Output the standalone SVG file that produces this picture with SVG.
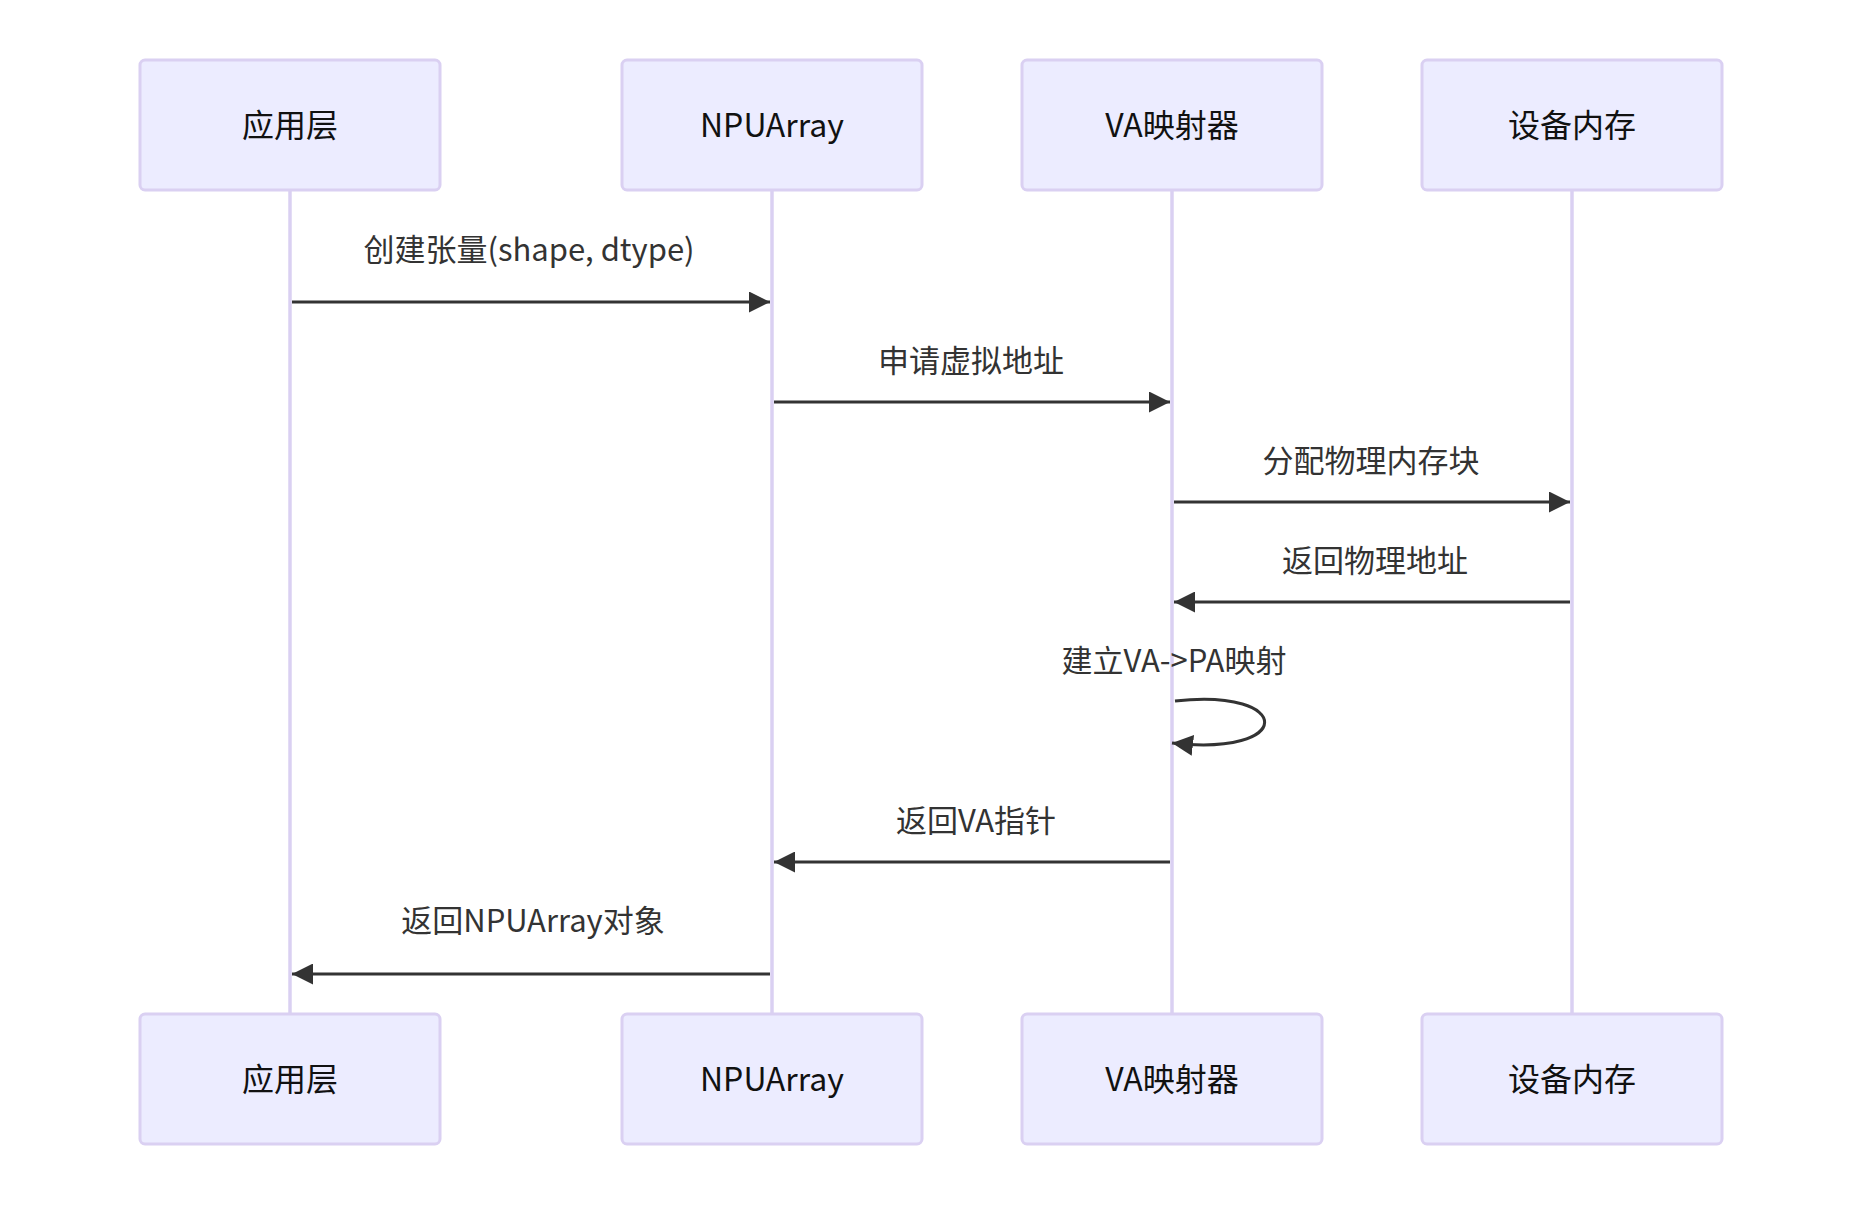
<svg xmlns="http://www.w3.org/2000/svg" width="1862" height="1206" viewBox="0 0 1862 1206">
<defs>
<style>
.actor{fill:#ECECFF;stroke:#DAD0F2;stroke-width:3}
.atext{font-family:"Noto Sans CJK SC","Noto Sans",sans-serif;font-size:32px;fill:#111;text-anchor:middle;dominant-baseline:central}
.life{stroke:#DAD0F2;stroke-width:3.5}
.msg{stroke:#333;stroke-width:3;fill:none}
.mtext{font-family:"Noto Sans CJK SC","Noto Sans",sans-serif;font-size:31px;fill:#333;text-anchor:middle;dominant-baseline:central}
</style>
<marker id="arrow" viewBox="0 0 20 20" refX="20" refY="10" markerWidth="21" markerHeight="21" markerUnits="userSpaceOnUse" orient="auto">
<path d="M0,0 L20,10 L0,20 z" fill="#333"/>
</marker>
</defs>
<rect width="1862" height="1206" fill="#fff"/>
<g id="lifelines">
<line class="life" x1="290" y1="190" x2="290" y2="1014"/>
<line class="life" x1="772" y1="190" x2="772" y2="1014"/>
<line class="life" x1="1172" y1="190" x2="1172" y2="1014"/>
<line class="life" x1="1572" y1="190" x2="1572" y2="1014"/>
</g>
<g id="actor-app-top"><rect class="actor" x="140" y="60" width="300" height="130" rx="5"/><text class="atext" x="290" y="123">应用层</text></g>
<g id="actor-npu-top"><rect class="actor" x="622" y="60" width="300" height="130" rx="5"/><text class="atext" x="772" y="123" font-size="31">NPUArray</text></g>
<g id="actor-va-top"><rect class="actor" x="1022" y="60" width="300" height="130" rx="5"/><text class="atext" x="1172" y="123">VA映射器</text></g>
<g id="actor-mem-top"><rect class="actor" x="1422" y="60" width="300" height="130" rx="5"/><text class="atext" x="1572" y="123">设备内存</text></g>
<g id="actor-app-bottom"><rect class="actor" x="140" y="1014" width="300" height="130" rx="5"/><text class="atext" x="290" y="1077">应用层</text></g>
<g id="actor-npu-bottom"><rect class="actor" x="622" y="1014" width="300" height="130" rx="5"/><text class="atext" x="772" y="1077" font-size="31">NPUArray</text></g>
<g id="actor-va-bottom"><rect class="actor" x="1022" y="1014" width="300" height="130" rx="5"/><text class="atext" x="1172" y="1077">VA映射器</text></g>
<g id="actor-mem-bottom"><rect class="actor" x="1422" y="1014" width="300" height="130" rx="5"/><text class="atext" x="1572" y="1077">设备内存</text></g>
<g id="connectors">
<line class="msg" x1="292" y1="302" x2="770" y2="302" marker-end="url(#arrow)"/>
<line class="msg" x1="774" y1="402" x2="1170" y2="402" marker-end="url(#arrow)"/>
<line class="msg" x1="1174" y1="502" x2="1570" y2="502" marker-end="url(#arrow)"/>
<line class="msg" x1="1570" y1="602" x2="1174" y2="602" marker-end="url(#arrow)"/>
<path class="msg" d="M1175,701 C1295,688 1295,757 1172,743" marker-end="url(#arrow)"/>
<line class="msg" x1="1170" y1="862" x2="774" y2="862" marker-end="url(#arrow)"/>
<line class="msg" x1="770" y1="974" x2="292" y2="974" marker-end="url(#arrow)"/>
</g>
<g id="labels">
<text class="mtext" x="529" y="247">创建张量(shape, dtype)</text>
<text class="mtext" x="971" y="358">申请虚拟地址</text>
<text class="mtext" x="1371" y="458">分配物理内存块</text>
<text class="mtext" x="1375" y="558">返回物理地址</text>
<text class="mtext" x="1174" y="658">建立VA-&gt;PA映射</text>
<text class="mtext" x="976" y="818">返回VA指针</text>
<text class="mtext" x="533" y="918">返回NPUArray对象</text>
</g>
</svg>
